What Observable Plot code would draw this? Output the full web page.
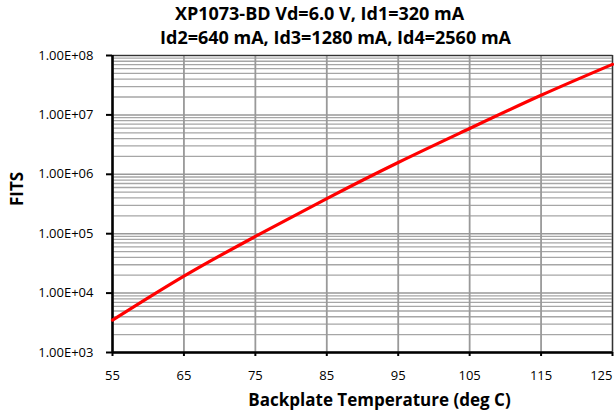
<!DOCTYPE html>
<html>
<head>
<meta charset="utf-8">
<script src="https://cdn.jsdelivr.net/npm/d3@7"></script>
<script src="https://cdn.jsdelivr.net/npm/@observablehq/plot@0.6"></script>
<style>
  html, body { margin: 0; padding: 0; background: #fff; }
</style>
</head>
<body>
<div id="chart"></div>
<script>
const titleLines = ["XP1073-BD Vd=6.0 V, Id1=320 mA", "Id2=640 mA, Id3=1280 mA, Id4=2560 mA"];
const xLabel = "Backplate Temperature (deg C)";
const yLabel = "FITS";
const temperature = [55, 65, 75, 85, 95, 105, 115, 125];
const fits = [3500, 19300, 90000, 390000, 1580000, 5900000, 21400000, 71000000];
const xTicks = [55, 65, 75, 85, 95, 105, 115, 125];
const yTicks = [1e3, 1e4, 1e5, 1e6, 1e7, 1e8];
const yMinor = [];
for (let e = 3; e < 8; e++) for (let m = 2; m <= 9; m++) yMinor.push(m * Math.pow(10, e));

const data = temperature.map((t, i) => ({t, v: fits[i]}));
const fmt = v => {
  const e = Math.round(Math.log10(v));
  return (v / Math.pow(10, e)).toFixed(2) + "E+" + String(e).padStart(2, "0");
};
const lastTick = xTicks[xTicks.length - 1];

const chart = Plot.plot({
  width: 614,
  height: 413,
  marginLeft: 112,
  marginRight: 2,
  marginTop: 55,
  marginBottom: 61,
  style: {fontFamily: "Open Sans", fontSize: "13px", color: "#000", background: "#fff"},
  x: {domain: [55, 125]},
  y: {type: "log", domain: [1e3, 1e8]},
  marks: [
    Plot.ruleY(yMinor, {stroke: "#a6a6a6", strokeWidth: 1.3}),
    Plot.ruleY(yTicks, {stroke: "#999", strokeWidth: 1.5}),
    Plot.ruleX(xTicks, {stroke: "#999", strokeWidth: 1.8}),
    Plot.frame({stroke: "#333", strokeWidth: 1.2}),
    Plot.ruleX([55], {stroke: "#000", strokeWidth: 2.5}),
    Plot.ruleY([1e3], {stroke: "#000", strokeWidth: 2.5}),
    Plot.axisY({ticks: yTicks, tickFormat: fmt, tickSize: 6, tickPadding: 13, strokeWidth: 2, label: null, fontSize: 13}),
    Plot.axisX({ticks: xTicks, tickFormat: d => d === lastTick ? "" : String(d), tickSize: 4, tickPadding: 14, strokeWidth: 2, label: null, fontSize: 13}),
    Plot.text([lastTick], {x: d => d, frameAnchor: "bottom", textAnchor: "end", lineAnchor: "top", dy: 18, dx: 0, fontSize: 13, text: d => String(d)}),
    Plot.line(data, {x: "t", y: "v", stroke: "#ff0000", strokeWidth: 3.2, curve: "natural"}),
    Plot.text([titleLines[0]], {frameAnchor: "top", lineAnchor: "middle", dx: -43, dy: -41, fontWeight: "bold", fontSize: 18, text: d => d}),
    Plot.text([titleLines[1]], {frameAnchor: "top", lineAnchor: "middle", dx: -27, dy: -17, fontWeight: "bold", fontSize: 18, text: d => d}),
    Plot.text([xLabel], {frameAnchor: "bottom", lineAnchor: "middle", dx: 17, dy: 48, fontWeight: "bold", fontSize: 17, text: d => d}),
    Plot.text([yLabel], {frameAnchor: "left", lineAnchor: "middle", dx: -95, dy: 2, rotate: -90, fontWeight: "bold", fontSize: 17, text: d => d})
  ]
});
document.getElementById("chart").appendChild(chart);
</script>
</body>
</html>
